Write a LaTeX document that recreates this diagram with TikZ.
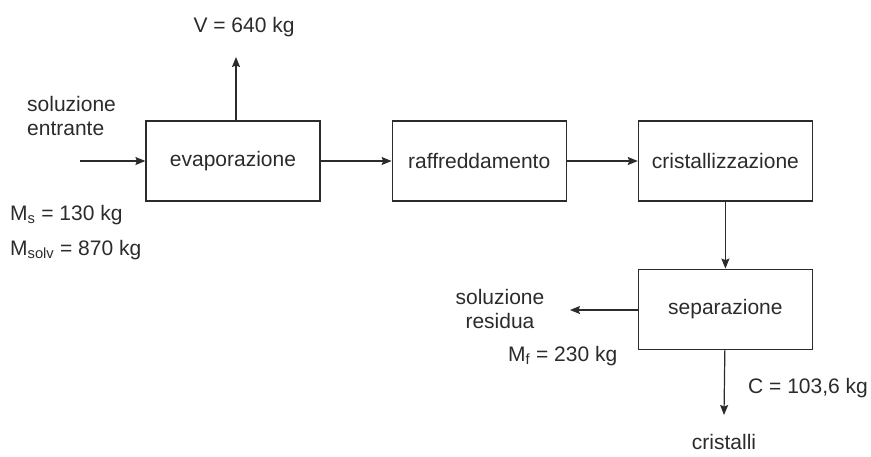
\documentclass[tikz,border=0pt]{standalone}
\usepackage{fontspec}
\setmainfont{Liberation Sans}
\usepackage{xcolor}
\definecolor{ink}{HTML}{2B2B2B}
\usepackage{tikz}
\usetikzlibrary{arrows.meta,positioning}

\begin{document}
\begin{tikzpicture}[
  x=1pt,y=-1pt,
  node distance=67pt and 71pt,
  every node/.style={font=\fontsize{21}{24}\selectfont,text=ink},
  box/.style={draw=ink,line width=1.2pt,minimum width=174pt,minimum height=80pt,inner sep=0pt},
  lbl/.style={inner sep=0pt,align=left},
  arrow/.style={-{Stealth[length=10pt,width=8pt,inset=1.5pt]},draw=ink,line width=1.2pt}
]
\useasboundingbox (0,0) rectangle (871,456);
\node[box] (evap) at (233,161) {evaporazione};
\node[box,right=of evap] (cool) {raffreddamento};
\node[box,right=of cool] (crist) {cristallizzazione};
\node[box,below=of crist] (sep) {separazione};
% free ends
\coordinate (feed) at (80,161);
\coordinate (vap) at (236,57);
\coordinate (resid) at (570,310);
\coordinate (cryst) at (724,415);
\draw[arrow] (feed) -- (evap);
\draw[arrow] (vap |- evap.north) -- (vap);
\draw[arrow] (evap) -- (cool);
\draw[arrow] (cool) -- (crist);
\draw[arrow] (crist) -- (sep);
\draw[arrow] (sep.west |- resid) -- (resid);
\draw[arrow] (sep) -- (cryst);
% labels
\node[lbl] (vlab) at (244,27) {V = 640 kg};
\node[lbl,anchor=west] (inlab) at (27,116) {soluzione\\entrante};
\node[lbl,anchor=west] (mslab) at (10,215) {M\textsubscript{s} = 130 kg};
\node[lbl,anchor=west] (mvlab) at (10,250) {M\textsubscript{solv} = 870 kg};
\node[lbl,align=center] (reslab) at (500,309) {soluzione\\residua};
\node[lbl,anchor=west] (mflab) at (508,356) {M\textsubscript{f} = 230 kg};
\node[lbl,anchor=west] (clab) at (748,388) {C = 103,6 kg};
\node[lbl] (crlab) at (724,442) {cristalli};
\end{tikzpicture}
\end{document}
